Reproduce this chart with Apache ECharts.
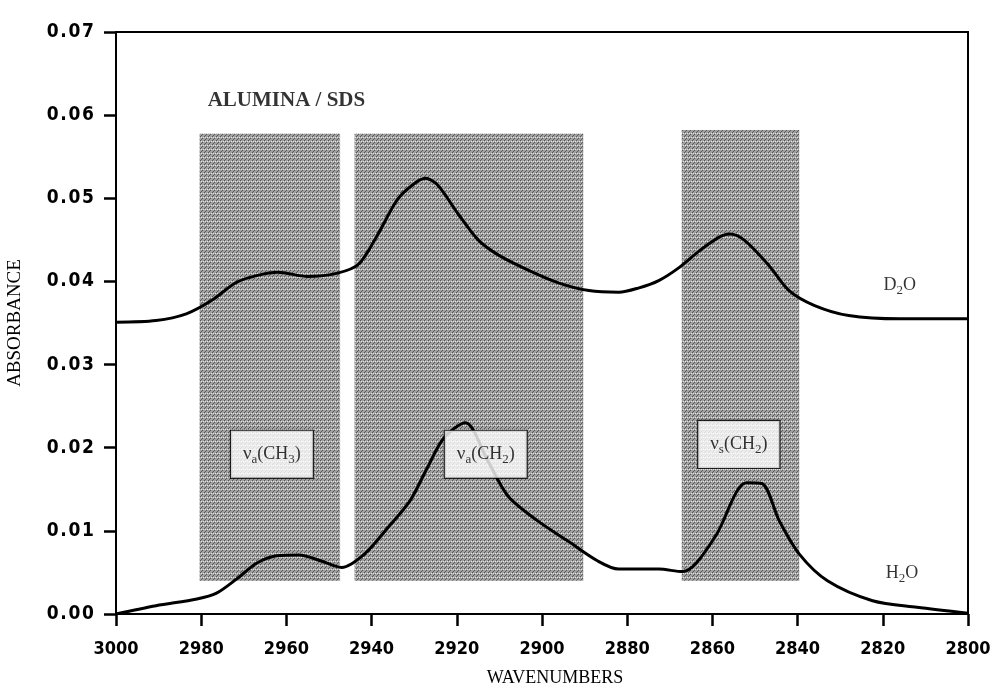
<!DOCTYPE html>
<html>
<head>
<meta charset="utf-8">
<script src="https://cdn.jsdelivr.net/npm/echarts@6/dist/echarts.min.js"></script>
<style>
  html, body { margin: 0; padding: 0; background: #fff; }
  #chart { width: 996px; height: 688px; }
</style>
</head>
<body>
<div id="chart"></div>
<script>
// wavenumber / absorbance pairs
const d2oWave = [3000, 2990.6, 2983.5, 2977.6, 2971.7, 2967, 2962, 2955, 2948, 2943, 2938.7, 2934, 2930.4, 2927.4, 2924.5, 2919.8, 2915, 2910, 2903, 2896, 2889, 2882, 2877.4, 2872.6, 2868, 2863, 2858.5, 2856, 2852.6, 2846.7, 2842, 2836, 2828, 2816, 2800];
const d2oAbs = [0.0351, 0.0353, 0.0361, 0.0377, 0.0399, 0.0407, 0.0411, 0.0406, 0.0410, 0.0421, 0.0455, 0.0498, 0.0516, 0.0524, 0.0516, 0.0482, 0.0450, 0.0431, 0.0413, 0.0398, 0.0389, 0.0387, 0.0392, 0.0401, 0.0416, 0.0437, 0.0453, 0.0457, 0.0450, 0.0419, 0.0389, 0.0371, 0.0359, 0.0355, 0.0355];

const h2oWave = [3000, 2990.6, 2981, 2976.4, 2971.7, 2967, 2962.3, 2957, 2952, 2947, 2941.7, 2936, 2931, 2927, 2923, 2918, 2912.7, 2908, 2901, 2894, 2887, 2882, 2872.6, 2867, 2864, 2859, 2852, 2848.4, 2844.3, 2839.6, 2833, 2822.4, 2812, 2800];
const h2oAbs = [0.0000, 0.0010, 0.0018, 0.0025, 0.0042, 0.0061, 0.0070, 0.0071, 0.0064, 0.0056, 0.0072, 0.0105, 0.0136, 0.0175, 0.0212, 0.0230, 0.0184, 0.0142, 0.0112, 0.0088, 0.0064, 0.0054, 0.0054, 0.0051, 0.0060, 0.0096, 0.0158, 0.0157, 0.0112, 0.0072, 0.0040, 0.0016, 0.0008, 0.0001];

// shaded band regions [from, to, bottom, top]
const bands = [
  [2980.4, 2947.4, 0.0040, 0.0578],
  [2944, 2890.3, 0.0040, 0.0578],
  [2867.2, 2839.6, 0.0040, 0.0582]
];

const bandLabels = [
  { wave: 2963.4, abs: 0.0192, text: '{g|ν}{s|a}(CH{s|3})' },
  { wave: 2913.2, abs: 0.0192, text: '{g|ν}{s|a}(CH{s|2})' },
  { wave: 2853.8, abs: 0.0204, text: '{g|ν}{s|s}(CH{s|2})' }
];

const curveLabels = [
  { wave: 2816, abs: 0.0395, text: 'D{s|2}O' },
  { wave: 2815.5, abs: 0.0049, text: 'H{s|2}O' }
];

const titleLabel = { wave: 2960, abs: 0.0617, text: 'ALUMINA / SDS' };

// halftone-like fill for the shaded bands
function makePattern() {
  const c = document.createElement('canvas');
  c.width = 4; c.height = 4;
  const ctx = c.getContext('2d');
  ctx.fillStyle = '#a0a0a0';
  ctx.fillRect(0, 0, 4, 4);
  ctx.fillStyle = '#585858';
  ctx.fillRect(0, 0, 1, 1);
  ctx.fillRect(2, 2, 1, 1);
  ctx.fillRect(1, 3, 1, 1);
  ctx.fillStyle = '#e4e4e4';
  ctx.fillRect(3, 1, 1, 1);
  ctx.fillRect(1, 1, 1, 1);
  return c;
}

const chart = echarts.init(document.getElementById('chart'));
const serif = '"Liberation Serif", "DejaVu Serif", serif';
const tickFont = '"DejaVu Sans Condensed", "DejaVu Sans", sans-serif';
const subStyle = { fontFamily: serif, fontSize: 13, color: '#000', verticalAlign: 'bottom', padding: [10, 0, 0, 0] };

const option = {
  animation: false,
  backgroundColor: '#fff',
  grid: {
    left: 116, right: 28, top: 32, bottom: 74,
    outerBoundsMode: 'none',
    containLabel: false,
    show: true, borderColor: '#000', borderWidth: 2, backgroundColor: 'transparent'
  },
  xAxis: {
    type: 'value',
    min: 2800, max: 3000, interval: 20,
    inverse: true,
    name: 'WAVENUMBERS',
    nameLocation: 'middle',
    nameGap: 55,
    nameTextStyle: { fontFamily: serif, fontSize: 18, color: '#000', padding: [0, 0, 0, 26] },
    axisLine: { show: true, lineStyle: { color: '#000', width: 2 } },
    axisTick: { show: true, length: 12, lineStyle: { color: '#000', width: 2.5 } },
    axisLabel: {
      color: '#000', fontFamily: tickFont, fontWeight: 'bold', fontSize: 18, margin: 26,
      formatter: (v) => String(v)
    },
    splitLine: { show: false }
  },
  yAxis: {
    type: 'value',
    min: 0, max: 0.07, interval: 0.01,
    name: 'ABSORBANCE',
    nameLocation: 'middle',
    nameGap: 91,
    nameTextStyle: { fontFamily: serif, fontSize: 19, color: '#000' },
    axisLine: { show: true, lineStyle: { color: '#000', width: 2 } },
    axisTick: { show: true, length: 12, lineStyle: { color: '#000', width: 2.5 } },
    axisLabel: {
      color: '#000', fontFamily: tickFont, fontWeight: 'bold', fontSize: 19, margin: 22,
      formatter: (v) => v.toFixed(2).split('').join('\u200a')
    },
    splitLine: { show: false }
  },
  series: [
    {
      name: 'D2O',
      type: 'line',
      data: d2oWave.map((w, i) => [w, d2oAbs[i]]),
      symbol: 'none',
      smooth: 0.3,
      lineStyle: { color: '#000', width: 3 },
      z: 3,
      markArea: {
        silent: true,
        itemStyle: { color: { image: makePattern(), repeat: 'repeat' } },
        data: bands.map((b) => [{ xAxis: b[0], yAxis: b[2] }, { xAxis: b[1], yAxis: b[3] }])
      }
    },
    {
      name: 'H2O',
      type: 'line',
      data: h2oWave.map((w, i) => [w, h2oAbs[i]]),
      symbol: 'none',
      smooth: 0.3,
      lineStyle: { color: '#000', width: 3 },
      z: 3
    },
    {
      type: 'scatter',
      symbolSize: 0,
      silent: true,
      z: 5,
      data: bandLabels.map((l) => ({ value: [l.wave, l.abs], name: l.text })),
      label: {
        show: true,
        position: 'inside',
        formatter: (p) => p.name,
        backgroundColor: '#fff',
        borderColor: '#000',
        borderWidth: 1.2,
        padding: [12, 12, 12, 12],
        fontFamily: serif,
        fontSize: 18,
        color: '#000',
        rich: {
          g: { fontFamily: serif, fontSize: 19, color: '#000' },
          s: subStyle
        }
      }
    },
    {
      type: 'scatter',
      symbolSize: 0,
      silent: true,
      z: 5,
      data: curveLabels.map((l) => ({ value: [l.wave, l.abs], name: l.text })),
      label: {
        show: true,
        position: 'inside',
        formatter: (p) => p.name,
        fontFamily: serif,
        fontSize: 18,
        color: '#000',
        rich: { s: subStyle }
      }
    },
    {
      type: 'scatter',
      symbolSize: 0,
      silent: true,
      z: 5,
      data: [{ value: [titleLabel.wave, titleLabel.abs], name: titleLabel.text }],
      label: {
        show: true,
        position: 'inside',
        formatter: (p) => p.name,
        fontFamily: serif,
        fontWeight: 'bold',
        fontSize: 21,
        color: '#000'
      }
    }
  ]
};

chart.setOption(option);
</script>
</body>
</html>
